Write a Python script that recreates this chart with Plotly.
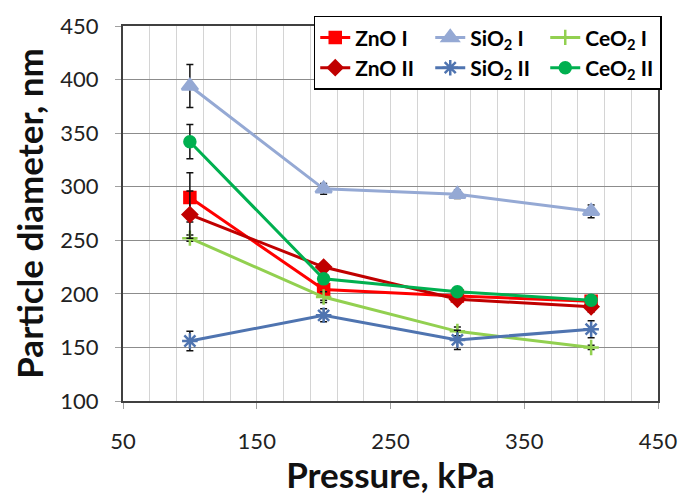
import plotly.graph_objects as go

pressure = [100, 200, 300, 400]

zno1 = [290, 204, 198, 193]
zno1_err = [23, 10, 3, 3]
zno2 = [274, 225, 195, 188]
zno2_err = [22, 3, 3, 5]
sio2_1 = [394, 298, 293, 277]
sio2_1_err = [20, 5, 4, 6]
sio2_2 = [156, 180, 157, 167]
sio2_2_err = [9, 6, 9, 8]
ceo2_1 = [252, 197, 165, 150]
ceo2_1_err = [3, 5, 4, 2]
ceo2_2 = [342, 214, 202, 194]
ceo2_2_err = [16, 3, 3, 3]

names = ["ZnO I", "SiO<sub>2</sub> I", "CeO<sub>2</sub> I",
         "ZnO II", "SiO<sub>2</sub> II", "CeO<sub>2</sub> II"]
series = [zno1, sio2_1, ceo2_1, zno2, sio2_2, ceo2_2]
errors = [zno1_err, sio2_1_err, ceo2_1_err, zno2_err, sio2_2_err, ceo2_2_err]
colors = ["#FF0000", "#95A9D4", "#92D050", "#C00000", "#4F74B0", "#00B050"]
symbols = ["square", "triangle-up", "cross-thin-open", "diamond", "asterisk-open", "circle"]
sizes = [11, 14, 11, 11, 13, 11]

fig = go.Figure()
for name, ys, err, col, sym, sz in zip(names, series, errors, colors, symbols, sizes):
    fig.add_trace(go.Scatter(
        x=pressure, y=ys, name=name, mode="lines+markers",
        line=dict(color=col, width=3),
        marker=dict(symbol=sym, size=sz, color=col, line=dict(color=col, width=2.5)),
        error_y=dict(type="data", array=err, visible=True, color="#111111",
                     thickness=1.5, width=3.5),
    ))

font_family = "Lato, 'Open Sans', sans-serif"
fig.update_layout(
    width=689, height=495,
    margin=dict(l=123, r=25, t=20, b=93),
    paper_bgcolor="white", plot_bgcolor="white",
    font=dict(family=font_family, color="#222222"),
    showlegend=True,
    legend=dict(
        orientation="h", x=1.007, y=0.83, xanchor="right", yanchor="bottom",
        bgcolor="white", bordercolor="#000000", borderwidth=1.5,
        font=dict(size=21, family=font_family, color="#000000", weight="bold"),
        entrywidth=70, entrywidthmode="pixels",
        itemwidth=30, tracegroupgap=0,
    ),
    xaxis=dict(
        range=[50, 450], tick0=50, dtick=100,
        showgrid=True, gridcolor="#D4D4D4", gridwidth=1,
        minor=dict(dtick=20, tick0=50, showgrid=True, gridcolor="#D4D4D4", gridwidth=1),
        ticks="outside", ticklen=6, tickcolor="#A0A0A0",
        ticklabelstandoff=14,
        showline=True, linecolor="#404040", linewidth=2, mirror=True,
        tickfont=dict(size=22, color="#222222"),
        title=dict(text="Pressure, kPa", font=dict(size=35, color="#111111", weight="bold"),
                   standoff=4),
        zeroline=False,
    ),
    yaxis=dict(
        range=[100, 450], tick0=100, dtick=50,
        showgrid=True, gridcolor="#8C8C8C", gridwidth=1,
        ticks="outside", ticklen=6, tickcolor="#A0A0A0",
        ticklabelstandoff=12,
        showline=True, linecolor="#404040", linewidth=2, mirror=True,
        tickfont=dict(size=22, color="#222222"),
        title=dict(text="Particle diameter, nm", font=dict(size=35, color="#111111", weight="bold"),
                   standoff=6),
        zeroline=False,
    ),
)

fig.write_html("out.html")
